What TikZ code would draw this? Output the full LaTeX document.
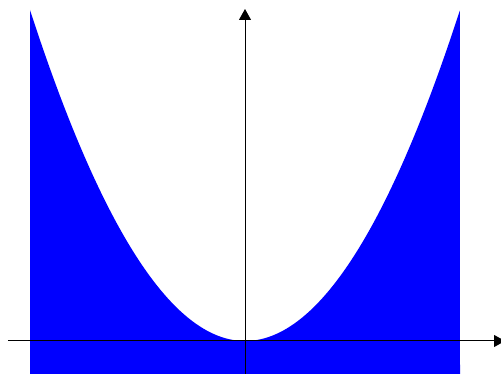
\documentclass[tikz,border=0pt]{standalone}
\usepackage[dvipsnames]{xcolor}
\usepackage{tikz}
\usetikzlibrary{calc,arrows.meta}
\definecolor{plot-fill}{HTML}{0000FF}
\definecolor{plot-axis}{HTML}{000000}

\begin{document}
\begin{tikzpicture}[x=107.5pt, y=82.75pt, >={Triangle[length=11pt,width=12pt]}]
    \useasboundingbox (-2.2791,-0.3988) rectangle (2.3814,4.1208);
    \fill[plot-fill] (-2,-0.3988) -- plot[domain=-2:2, samples=120, smooth] (\x,{\x*\x}) -- (2,-0.3988) -- cycle;
    \coordinate (xstart) at (-2.2047,0);
    \coordinate (xend) at (2.4186,0);
    \coordinate (ystart) at (0,-0.3988);
    \coordinate (yend) at (0,4.0121);
    \draw[->, line width=1pt, plot-axis] (xstart) -- (xend);
    \draw[->, line width=1pt, plot-axis] (ystart) -- (yend);
\end{tikzpicture}
\end{document}
